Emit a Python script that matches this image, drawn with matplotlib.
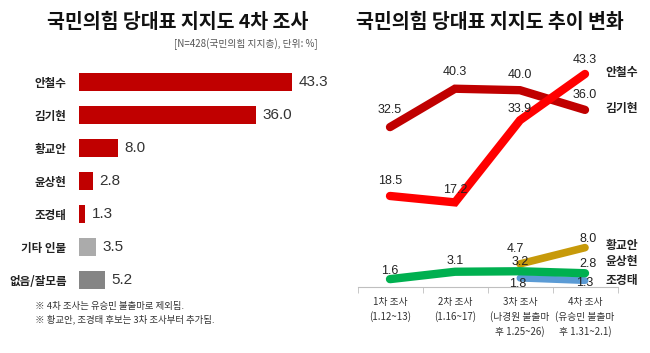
import matplotlib
matplotlib.use('Agg')
import matplotlib.pyplot as plt

plt.rcParams['font.family'] = ['Noto Sans CJK KR', 'DejaVu Sans']
NUM_FONT = ['Liberation Sans', 'Noto Sans CJK KR']

# left: 4th survey
bar_names = ['안철수', '김기현', '황교안', '윤상현', '조경태', '기타 인물', '없음/잘모름']
bar_values = [43.3, 36.0, 8.0, 2.8, 1.3, 3.5, 5.2]
bar_colors = ['#C00000'] * 5 + ['#ABABAB', '#858585']

# right: trend
rounds = ['1차 조사\n(1.12~13)', '2차 조사\n(1.16~17)', '3차 조사\n(나경원 불출마\n후 1.25~26)',
          '4차 조사\n(유승민 불출마\n후 1.31~2.1)']
ahn = [18.5, 17.2, 33.9, 43.3]
kim = [32.5, 40.3, 40.0, 36.0]
hwang = [None, None, 4.7, 8.0]
yoon = [1.6, 3.1, 3.2, 2.8]
cho = [None, None, 1.8, 1.3]

fig = plt.figure(figsize=(6.5, 3.53), dpi=100)

fig.text(178 / 650, 1 - 22 / 353, '국민의힘 당대표 지지도 4차 조사', ha='center', va='center',
         fontsize=14, fontweight='black', color='#111111')
fig.text(490 / 650, 1 - 22 / 353, '국민의힘 당대표 지지도 추이 변화', ha='center', va='center',
         fontsize=14, fontweight='black', color='#111111')
fig.text(318 / 650, 1 - 44 / 353, '[N=428(국민의힘 지지층), 단위: %]', ha='right', va='center',
         fontsize=7, color='#555555')
fig.text(35 / 650, 1 - 307 / 353, '※ 4차 조사는 유승민 불출마로 제외됨.', ha='left', va='center',
         fontsize=6.8, color='#333333')
fig.text(35 / 650, 1 - 319 / 353, '※ 황교안, 조경태 후보는 3차 조사부터 추가됨.', ha='left', va='center',
         fontsize=6.8, color='#333333')

# bar chart
ax1 = fig.add_axes([79 / 650, 1 - 296.5 / 353, 251 / 650, 231 / 353])
ypos = range(len(bar_names))
ax1.barh(ypos, bar_values, height=0.52, color=bar_colors, edgecolor='none')
for i, v in enumerate(bar_values):
    ax1.text(v + 1.3, i, f'{v:.1f}', va='center', ha='left', fontsize=11, color='#333333',
             family=NUM_FONT)
ax1.set_xlim(0, 51)
ax1.set_ylim(6.5, -0.5)
ax1.set_yticks(list(ypos))
ax1.set_yticklabels(bar_names, fontsize=8.3, fontweight='bold', color='#222222')
ax1.tick_params(axis='y', length=0, pad=9)
ax1.set_xticks([])
for s in ax1.spines.values():
    s.set_visible(False)

# line chart
ax2 = fig.add_axes([357.5 / 650, 1 - 287 / 353, 260 / 650, 246 / 353])
x = list(range(len(rounds)))


def xy(vals):
    pts = [(i, v) for i, v in zip(x, vals) if v is not None]
    return [p[0] for p in pts], [p[1] for p in pts]


series = [
    (cho, '#5B9BD5', 5),
    (hwang, '#C79A0A', 5.5),
    (yoon, '#00B050', 6),
    (kim, '#C00000', 6),
    (ahn, '#FF0000', 6),
]
for vals, c, lw in series:
    xs, ys = xy(vals)
    ax2.plot(xs, ys, color=c, lw=lw, solid_capstyle='round', solid_joinstyle='miter')

label_offsets = {
    'ahn': [(0, 11), (0, 9), (0, 8), (0, 10)],
    'kim': [(0, 12), (0, 12), (0, 11), (0, 11)],
    'hwang': [None, None, (-3, 11), (2, 6)],
    'yoon': [(0, 6), (0, 8), (0, 7), (2, 7)],
    'cho': [None, None, (-2, -4), (0, -2)],
}
for key, vals in [('ahn', ahn), ('kim', kim), ('hwang', hwang), ('yoon', yoon), ('cho', cho)]:
    for i, v in enumerate(vals):
        if v is None:
            continue
        ax2.annotate(f'{v:.1f}', (i, v), xytext=label_offsets[key][i], textcoords='offset points',
                     ha='center', va='center', fontsize=9, color='#222222', family=NUM_FONT)

for name, yv in [('안철수', 43.5), ('김기현', 36.2), ('황교안', 8.5), ('윤상현', 5.1), ('조경태', 1.4)]:
    ax2.text(3.32, yv, name, ha='left', va='center', fontsize=8.5, fontweight='bold',
             color='#222222', clip_on=False)

ax2.set_xlim(-0.5, 3.5)
ax2.set_ylim(0, 50)
ax2.set_xticks(x)
ax2.set_xticklabels(rounds, fontsize=7, color='#333333', linespacing=1.5, va='top')
ax2.set_xticks([-0.5, 0.5, 1.5, 2.5, 3.5], minor=True)
ax2.tick_params(axis='x', which='major', length=0, pad=7)
ax2.tick_params(axis='x', which='minor', length=4, color='#BFBFBF', direction='out')
ax2.set_yticks([])
for k, s in ax2.spines.items():
    s.set_visible(k == 'bottom')
ax2.spines['bottom'].set_color('#BFBFBF')

fig.savefig('out.png', dpi=100)
